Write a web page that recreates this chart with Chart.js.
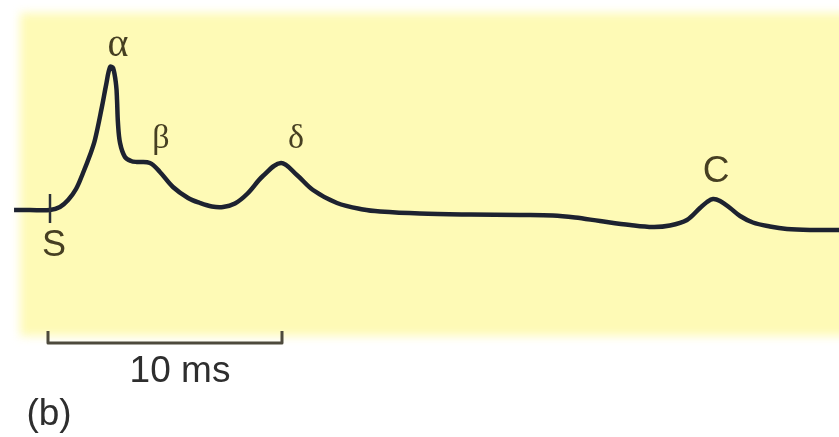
<!DOCTYPE html>
<html>
<head>
<meta charset="utf-8">
<script src="https://cdn.jsdelivr.net/npm/chart.js@4/dist/chart.umd.min.js"></script>
<style>
  html, body { margin: 0; padding: 0; background: #ffffff; }
  #wrap { width: 839px; height: 437px; }
</style>
</head>
<body>
<div id="wrap"><canvas id="c" width="839" height="437"></canvas></div>
<script>
// Time after stimulus S (ms)
const timeMs = [
  -1.50, -0.82, 0.04, 0.47, 0.82, 1.16, 1.46, 1.76, 1.97, 2.27, 2.45, 2.62, 2.75, 2.88, 2.92, 2.96,
  3.05, 3.26, 3.52, 3.78, 4.33, 4.76, 5.32, 5.97, 6.48, 6.99, 7.47, 7.98, 8.50, 9.18, 9.96, 10.64,
  11.33, 12.36, 13.48, 14.21, 15.92, 18.07, 20.21, 21.63, 22.58, 23.65, 24.94, 25.92, 26.65, 27.38,
  27.94, 28.24, 28.50, 28.80, 29.23, 29.66, 30.21, 30.94, 31.67, 32.66, 33.91
];
// Evoked response amplitude (arbitrary units)
const amplitude = [
  0, 0, 0, 0.3, 1.0, 2.1, 3.7, 5.5, 7.0, 10.3, 12.5, 14.3, 14.2, 12.5, 11.0, 8.7,
  6.7, 5.3, 4.9, 4.8, 4.7, 3.8, 2.3, 1.2, 0.7, 0.35, 0.3, 0.65, 1.6, 3.4, 4.7, 3.5,
  2.0, 0.7, 0.05, -0.15, -0.35, -0.45, -0.5, -0.55, -0.75, -1.1, -1.5, -1.7, -1.55, -1.0,
  0.2, 0.8, 1.1, 0.9, 0.2, -0.6, -1.25, -1.65, -1.9, -2.0, -2.0
];
// Labelled features
const markerNames = ['S', 'α', 'β', 'δ', 'C'];
const markerTimes = [0, 2.62, 4.33, 9.96, 28.50];
const markerAmps  = [0, 14.3, 4.7, 4.7, 1.1];
// Scale bar
const scaleBarMs = [0, 10];
const scaleBarLabel = '10 ms';
const panelLabel = '(b)';

const points = timeMs.map((t, i) => ({ x: t, y: amplitude[i] }));

const decor = {
  id: 'decor',
  beforeDraw(chart) {
    const ctx = chart.ctx;
    ctx.save();
    ctx.fillStyle = '#ffffff';
    ctx.fillRect(0, 0, chart.width, chart.height);
    ctx.filter = 'blur(5px)';
    ctx.fillStyle = '#fefab6';
    ctx.fillRect(20, 13, 840, 323);
    ctx.filter = 'none';
    ctx.restore();
  },
  afterDatasetsDraw(chart) {
    const ctx = chart.ctx;
    const xs = chart.scales.x, ys = chart.scales.y;
    ctx.save();
    // stimulus tick at S
    const sx = xs.getPixelForValue(markerTimes[0]);
    const sy = ys.getPixelForValue(markerAmps[0]);
    ctx.strokeStyle = '#2a2f36';
    ctx.lineWidth = 2.5;
    ctx.beginPath();
    ctx.moveTo(sx + 1, sy - 16);
    ctx.lineTo(sx + 1, sy + 13);
    ctx.stroke();

    // labels
    const offsets = [[5, 36], [8, -22], [11, -24], [15, -24], [3, -27]];
    const fonts = ['36px "Liberation Sans"', '40px "Liberation Serif"', '34px "Liberation Serif"',
                   '34px "Liberation Serif"', '37px "Liberation Sans"'];
    ctx.fillStyle = '#463f22';
    ctx.textAlign = 'center';
    ctx.textBaseline = 'middle';
    markerNames.forEach((n, i) => {
      const px = xs.getPixelForValue(markerTimes[i]) + offsets[i][0];
      const py = ys.getPixelForValue(markerAmps[i]) + offsets[i][1];
      ctx.font = fonts[i];
      ctx.fillText(n, px, py);
    });

    // scale bar
    const x0 = xs.getPixelForValue(scaleBarMs[0]) - 1;
    const x1 = xs.getPixelForValue(scaleBarMs[1]);
    ctx.strokeStyle = '#4d4a3c';
    ctx.lineWidth = 3;
    ctx.lineJoin = 'round';
    ctx.beginPath();
    ctx.moveTo(x0, 331);
    ctx.lineTo(x0, 343);
    ctx.lineTo(x1, 343);
    ctx.lineTo(x1, 331);
    ctx.stroke();

    ctx.fillStyle = '#2e2e2e';
    ctx.font = '37px "Liberation Sans"';
    ctx.fillText(scaleBarLabel, (x0 + x1) / 2 + 15, 372);
    ctx.font = '37px "Liberation Sans"';
    ctx.fillText(panelLabel, 49, 415);
    ctx.restore();
  }
};

new Chart(document.getElementById('c'), {
  type: 'line',
  data: {
    datasets: [{
      data: points,
      borderColor: '#1d2230',
      borderWidth: 4.5,
      pointRadius: 0,
      fill: false,
      tension: 0.35
    }]
  },
  options: {
    responsive: false,
    animation: false,
    events: [],
    layout: { padding: 0 },
    plugins: { legend: { display: false }, tooltip: { enabled: false } },
    scales: {
      x: { type: 'linear', display: false, min: -2.103, max: 33.906 },
      y: { type: 'linear', display: false, min: -22.7, max: 21.0 }
    }
  },
  plugins: [decor]
});
</script>
</body>
</html>
